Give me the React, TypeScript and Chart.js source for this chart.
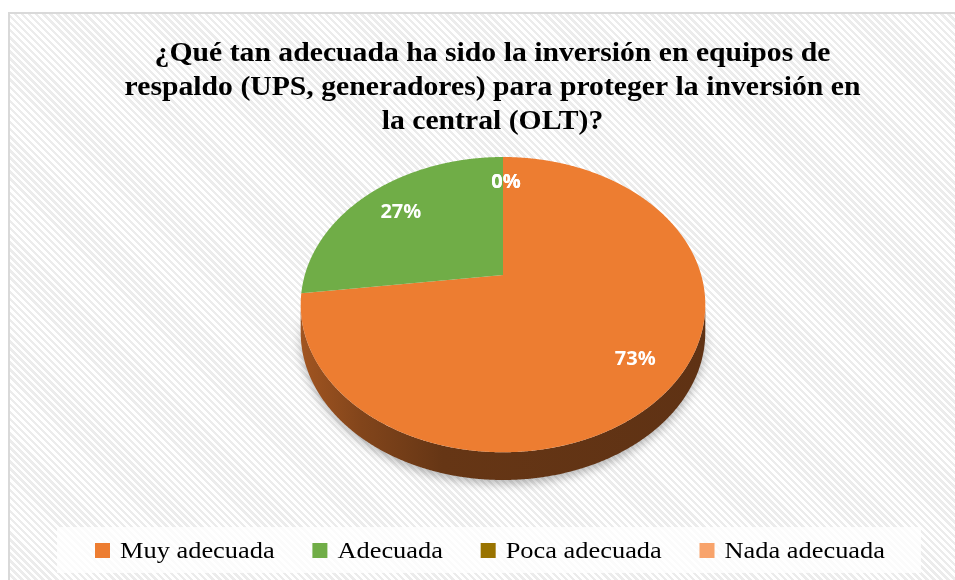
import React, { useEffect, useRef } from "react";
import { Chart, registerables } from "chart.js";

Chart.register(...registerables);

// ---- data ----
const TITLE_LINES = [
  "¿Qué tan adecuada ha sido la inversión en equipos de",
  "respaldo (UPS, generadores) para proteger la inversión en",
  "la central (OLT)?",
];
const CATEGORIES = ["Muy adecuada", "Adecuada", "Poca adecuada", "Nada adecuada"];
const PERCENTS = [73, 27, 0, 0];
const COLORS = ["#ED7D31", "#70AD47", "#997300", "#F8A36B"];

// ---- 3D look ----
const TILT = 0.715; // vertical squash of the disc
const PERSP = -0.2; // perspective factor (near edge larger)
const DEPTH = 0.14; // side thickness relative to radius
const LABEL_R = 0.78;
const STRETCH = 1.1;

function hexToRgb(h: string) {
  const n = parseInt(h.slice(1), 16);
  return [(n >> 16) & 255, (n >> 8) & 255, n & 255];
}
function shade(h: string, f: number) {
  const [r, g, b] = hexToRgb(h);
  return `rgb(${Math.round(r * f)},${Math.round(g * f)},${Math.round(b * f)})`;
}

function geom(chart: any) {
  const ca = chart.chartArea;
  const H = ca.bottom - ca.top;
  const topOff = TILT / (1 - PERSP);
  const botOff = TILT / (1 + PERSP) + DEPTH;
  const s = H / (topOff + botOff);
  const cx = (ca.left + ca.right) / 2;
  const cy = ca.top + topOff * s;
  const P = (u: number, v: number) => {
    const w = 1 + PERSP * v;
    return [cx + (s * u) / w, cy + (s * TILT * v) / w];
  };
  return { s, cx, cy, depth: DEPTH * s, P };
}

const pie3d = {
  id: "pie3d",
  beforeDatasetsDraw(chart: any) {
    const ctx = chart.ctx;
    const { P, depth } = geom(chart);
    const meta = chart.getDatasetMeta(0);
    const a1 = Math.asin(-PERSP);
    const a2 = Math.PI - a1;
    const step = 0.005;
    const xl = P(Math.cos(a2), Math.sin(a2))[0];
    const xr = P(Math.cos(a1), Math.sin(a1))[0];

    // sides
    meta.data.forEach((arc: any, i: number) => {
      const { startAngle, endAngle } = arc.getProps(["startAngle", "endAngle"], true);
      const lo = Math.max(startAngle, a1);
      const hi = Math.min(endAngle, a2);
      if (hi <= lo) return;
      const col = COLORS[i];
      const g = ctx.createLinearGradient(xl, 0, xr, 0);
      g.addColorStop(0, shade(col, 0.68));
      g.addColorStop(0.15, shade(col, 0.55));
      g.addColorStop(0.35, shade(col, 0.43));
      g.addColorStop(1, shade(col, 0.4));
      ctx.save();
      ctx.beginPath();
      for (let t = lo; t <= hi; t += step) {
        const [x, y] = P(Math.cos(t), Math.sin(t));
        if (t === lo) ctx.moveTo(x, y);
        else ctx.lineTo(x, y);
      }
      let p = P(Math.cos(hi), Math.sin(hi));
      ctx.lineTo(p[0], p[1]);
      ctx.lineTo(p[0], p[1] + depth);
      for (let t = hi; t >= lo; t -= step) {
        const [x, y] = P(Math.cos(t), Math.sin(t));
        ctx.lineTo(x, y + depth);
      }
      p = P(Math.cos(lo), Math.sin(lo));
      ctx.lineTo(p[0], p[1] + depth);
      ctx.closePath();
      ctx.shadowColor = "rgba(0,0,0,0.28)";
      ctx.shadowBlur = 10;
      ctx.shadowOffsetY = 4;
      ctx.fillStyle = g;
      ctx.fill();
      ctx.restore();
    });

    // top faces
    meta.data.forEach((arc: any, i: number) => {
      const { startAngle, endAngle } = arc.getProps(["startAngle", "endAngle"], true);
      if (endAngle - startAngle <= 0) return;
      ctx.save();
      ctx.beginPath();
      const c = P(0, 0);
      ctx.moveTo(c[0], c[1]);
      for (let t = startAngle; t < endAngle; t += step) {
        const [x, y] = P(Math.cos(t), Math.sin(t));
        ctx.lineTo(x, y);
      }
      const e = P(Math.cos(endAngle), Math.sin(endAngle));
      ctx.lineTo(e[0], e[1]);
      ctx.closePath();
      ctx.fillStyle = arc.options.backgroundColor;
      ctx.fill();
      ctx.restore();
    });
    return false;
  },
  afterDraw(chart: any) {
    const ctx = chart.ctx;
    const { P } = geom(chart);
    const meta = chart.getDatasetMeta(0);

    // title
    ctx.save();
    ctx.fillStyle = "#000";
    ctx.font = "bold 27px 'Liberation Serif'";
    ctx.textAlign = "center";
    ctx.textBaseline = "alphabetic";
    const titleX = 482.5;
    const baselines = [47, 81, 115];
    TITLE_LINES.forEach((line, i) => {
      ctx.save();
      ctx.translate(titleX, baselines[i]);
      ctx.scale(STRETCH, 1);
      ctx.fillText(line, 0, 0);
      ctx.restore();
    });
    ctx.restore();

    // data labels
    ctx.save();
    ctx.fillStyle = "#fff";
    ctx.font = "bold 20px 'Open Sans'";
    ctx.textAlign = "center";
    ctx.textBaseline = "middle";
    meta.data.forEach((arc: any, i: number) => {
      const { startAngle, endAngle } = arc.getProps(["startAngle", "endAngle"], true);
      const m = (startAngle + endAngle) / 2;
      const [x, y] = P(LABEL_R * Math.cos(m), LABEL_R * Math.sin(m));
      ctx.fillText(PERCENTS[i] + "%", x + 3, y + 3);
    });
    ctx.restore();

    // legend
    ctx.save();
    ctx.fillStyle = "rgba(255,255,255,0.8)";
    ctx.fillRect(47, 513, 864, 46);
    ctx.font = "24px 'Liberation Serif'";
    ctx.textBaseline = "alphabetic";
    const box = 15;
    const gapText = 10;
    const widths = CATEGORIES.map((c) => ctx.measureText(c).width * STRETCH);
    const startX = 85;
    const endX = 875;
    const itemsW = widths.reduce((a, w) => a + w + box + gapText, 0);
    const gap = (endX - startX - itemsW) / (CATEGORIES.length - 1);
    let x = startX;
    CATEGORIES.forEach((c, i) => {
      ctx.fillStyle = COLORS[i];
      ctx.fillRect(x, 529, box, box);
      ctx.fillStyle = "#000";
      ctx.save();
      ctx.translate(x + box + gapText, 544);
      ctx.scale(STRETCH, 1);
      ctx.fillText(c, 0, 0);
      ctx.restore();
      x += box + gapText + widths[i] + gap;
    });
    ctx.restore();
  },
};

export default function App() {
  const ref = useRef<HTMLCanvasElement | null>(null);
  useEffect(() => {
    if (!ref.current) return;
    const chart = new Chart(ref.current, {
      type: "pie",
      data: {
        labels: CATEGORIES,
        datasets: [
          {
            data: PERCENTS,
            backgroundColor: COLORS,
            borderWidth: 0,
          },
        ],
      },
      options: {
        responsive: false,
        animation: false,
        devicePixelRatio: 1,
        layout: { padding: { top: 143, bottom: 100, left: 41, right: 0 } },
        plugins: {
          legend: { display: false },
          title: { display: false },
          tooltip: { enabled: false },
        },
      },
      plugins: [pie3d],
    });
    return () => chart.destroy();
  }, []);

  return (
    <div
      style={{
        position: "fixed",
        left: 8,
        top: 12,
        width: 947,
        height: 568,
        boxSizing: "border-box",
        borderLeft: "2px solid #d9d9d9",
        borderTop: "2px solid #d9d9d9",
        background:
          "repeating-linear-gradient(45deg, #ffffff 0px, #ffffff 2.5px, #ececec 2.5px, #ececec 5px)",
        overflow: "hidden",
      }}
    >
      <canvas ref={ref} width={945} height={566} style={{ display: "block", width: 945, height: 566 }} />
    </div>
  );
}
